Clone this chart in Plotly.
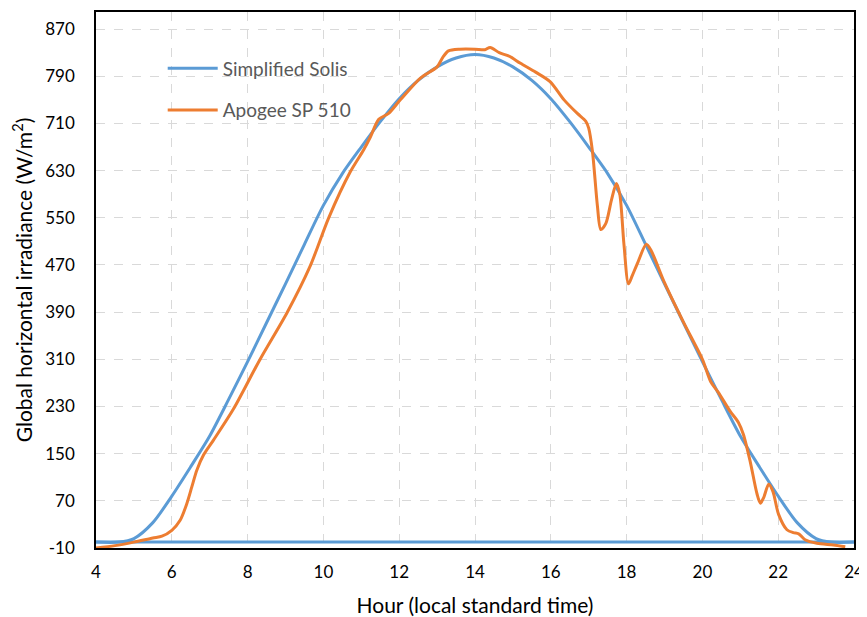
import plotly.graph_objects as go

# Simplified Solis model (W/m^2)
solis_hour = [4.0, 4.6, 5.0, 5.5, 6.0, 6.5, 7.0, 7.5, 8.0, 8.5, 9.0, 9.5, 10.0, 10.5, 11.0, 11.5,
              12.0, 12.5, 13.0, 13.5, 14.0, 14.5, 15.0, 15.5, 16.0, 16.5, 17.0, 17.5, 18.0,
              18.5, 19.0, 19.5, 20.0, 20.5, 21.0, 21.5, 22.0, 22.5, 23.0, 23.4, 24.0]
solis_ghi = [0, 0, 6, 33, 78, 128, 180, 242, 306, 372, 438, 505, 571, 625, 670, 713,
             752, 783, 806, 821, 827, 821, 806, 783, 752, 713, 670, 625, 571,
             505, 438, 372, 306, 242, 180, 128, 78, 33, 6, 0, 0]

# Night-time zero line of the model
base_hour = [4.0, 24.0]
base_ghi = [0, 0]

# Apogee SP 510 measurements (W/m^2)
apogee_hour = [4.0, 4.5, 5.0, 5.5, 5.74, 6.0, 6.22, 6.4, 6.53, 6.66, 6.84, 7.1, 7.63, 8.32,
               9.04, 9.65, 10.14, 10.71, 11.06, 11.24, 11.46, 11.72, 12.03, 12.56, 13.0,
               13.15, 13.3, 13.6, 14.0, 14.26, 14.4, 14.64, 14.9, 15.2, 15.6, 15.98, 16.35,
               16.7, 16.92, 17.0, 17.1, 17.23, 17.32, 17.45, 17.6, 17.73, 17.82, 17.93,
               18.05, 18.15, 18.3, 18.52, 18.65, 19.0, 19.5, 20.0, 20.22, 20.42, 20.73,
               20.95, 21.08, 21.26, 21.44, 21.53, 21.62, 21.75, 21.86, 22.01, 22.23, 22.4,
               22.54, 22.71, 23.02, 23.46, 23.77]
apogee_ghi = [-10, -6, 0, 7, 10, 20, 37, 66, 94, 122, 148, 173, 226, 309,
              389, 468, 550, 628, 665, 687, 717, 727, 750, 787, 806,
              822, 833, 836, 836, 835, 839, 830, 824, 812, 797, 781, 750,
              727, 714, 702, 662, 570, 530, 540, 580, 608, 590, 505,
              438, 452, 475, 505, 494, 440, 373, 310, 272, 254, 222,
              203, 183, 137, 82, 66, 76, 98, 86, 47, 21, 16,
              14, 4, -2, -5, -8]

x_ticks = [4, 6, 8, 10, 12, 14, 16, 18, 20, 22, 24]
y_ticks = [-10, 70, 150, 230, 310, 390, 470, 550, 630, 710, 790, 870]

BLUE = "#5b9bd5"
ORANGE = "#ed7d31"
FONT = "Lato, 'Open Sans', sans-serif"

fig = go.Figure()
fig.add_trace(go.Scatter(x=base_hour, y=base_ghi, mode="lines",
                         line=dict(color=BLUE, width=3), showlegend=False, hoverinfo="skip"))
fig.add_trace(go.Scatter(x=solis_hour, y=solis_ghi, mode="lines", name="Simplified Solis",
                         legendgroup="a",
                         line=dict(color=BLUE, width=3, shape="spline", smoothing=0.8)))
fig.add_trace(go.Scatter(x=apogee_hour, y=apogee_ghi, mode="lines", name="Apogee SP 510",
                         legendgroup="b",
                         line=dict(color=ORANGE, width=3, shape="spline", smoothing=0.8)))

# page body adds an 8px offset, so the figure is drawn 8px smaller with shifted margins
fig.update_layout(
    width=859, height=609,
    margin=dict(l=88, r=13, t=4, b=69, autoexpand=False),
    paper_bgcolor="white", plot_bgcolor="white",
    font=dict(family=FONT, size=17, color="black"),
    showlegend=True,
    legend=dict(x=0.088, y=0.93, xanchor="left", yanchor="top",
                bgcolor="rgba(0,0,0,0)", traceorder="grouped", tracegroupgap=14,
                itemwidth=50,
                font=dict(family=FONT, size=19, color="#595959")),
)
fig.update_xaxes(
    range=[4, 24], tickvals=x_ticks, ticktext=[str(v) for v in x_ticks],
    showgrid=True, gridcolor="#d9d9d9", griddash="dash", gridwidth=1,
    showline=True, linecolor="black", linewidth=1.5, mirror=True,
    ticks="", ticklabelstandoff=8, zeroline=False,
    tickfont=dict(family=FONT, size=17, color="black"),
    title=dict(text="Hour (local standard time)", standoff=18,
               font=dict(family=FONT, size=21, color="black")),
)
fig.update_yaxes(
    range=[-10, 899], tickvals=y_ticks, ticktext=[str(v) for v in y_ticks],
    showgrid=True, gridcolor="#d9d9d9", griddash="dash", gridwidth=1,
    showline=True, linecolor="black", linewidth=1.5, mirror=True,
    ticks="", ticklabelstandoff=16, zeroline=False,
    tickfont=dict(family=FONT, size=17, color="black"),
    title=dict(text="Global horizontal irradiance (W/m<sup>2</sup>)", standoff=12,
               font=dict(family=FONT, size=21, color="black")),
)

fig.write_html("out.html")
